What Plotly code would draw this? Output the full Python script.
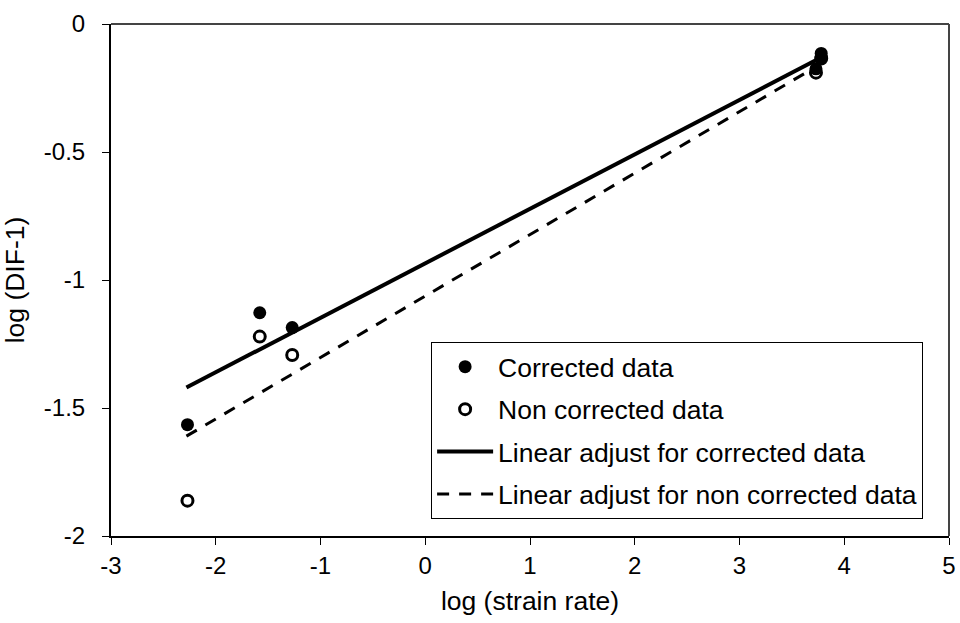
import plotly.graph_objects as go

# Data
corr_x = [-2.27, -1.58, -1.27, 3.73, 3.78, 3.78]
corr_y = [-1.565, -1.128, -1.186, -0.175, -0.115, -0.13]
noncorr_x = [-2.27, -1.58, -1.27, 3.73, 3.78]
noncorr_y = [-1.862, -1.221, -1.293, -0.19, -0.135]

fit_x = [-2.28, 3.76]
fit_corr_y = [-1.42, -0.135]
fit_noncorr_y = [-1.61, -0.16]

x_ticks = [-3, -2, -1, 0, 1, 2, 3, 4, 5]
y_ticks = [0, -0.5, -1, -1.5, -2]

FONT = "Arial, Liberation Sans, sans-serif"

fig = go.Figure()
fig.add_trace(go.Scatter(
    x=corr_x, y=corr_y, mode="markers", name="Corrected data", legendgroup="a",
    marker=dict(symbol="circle", size=13, color="black"),
))
fig.add_trace(go.Scatter(
    x=noncorr_x, y=noncorr_y, mode="markers", name="Non corrected data", legendgroup="b",
    marker=dict(symbol="circle-open", size=11, color="black", line=dict(width=3, color="black")),
))
fig.add_trace(go.Scatter(
    x=fit_x, y=fit_corr_y, mode="lines", name="Linear adjust for corrected data", legendgroup="c",
    line=dict(color="black", width=4),
))
fig.add_trace(go.Scatter(
    x=fit_x, y=fit_noncorr_y, mode="lines", name="Linear adjust for non corrected data", legendgroup="d",
    line=dict(color="black", width=3, dash="12px,10px"),
))

fig.update_layout(
    width=960, height=623,
    margin=dict(l=111, r=11, t=24, b=87),
    paper_bgcolor="white", plot_bgcolor="white",
    font=dict(family=FONT, size=24, color="black"),
    showlegend=True,
    legend=dict(
        x=0.382, y=0.379, xanchor="left", yanchor="top",
        bordercolor="black", borderwidth=1, bgcolor="white",
        font=dict(family=FONT, size=26.5, color="black"),
        itemwidth=56, tracegroupgap=5,
    ),
    xaxis=dict(
        range=[-3, 5], tickvals=x_ticks, ticktext=[str(v) for v in x_ticks],
        showgrid=False, zeroline=False, showline=True, linecolor="black", linewidth=2,
        mirror=False, ticks="outside", ticklen=7, tickwidth=1, tickcolor="black",
        title=dict(text="log (strain rate)", font=dict(size=26.5), standoff=14),
        tickfont=dict(size=24), automargin=False,
    ),
    yaxis=dict(
        range=[-2, 0], tickvals=y_ticks, ticktext=["0", "-0.5", "-1", "-1.5", "-2"],
        showgrid=False, zeroline=False, showline=True, linecolor="black", linewidth=2,
        mirror=False, ticks="outside", ticklen=7, tickwidth=1, tickcolor="black",
        ticklabelstandoff=12,
        title=dict(text="log (DIF-1)", font=dict(size=26.5), standoff=14),
        tickfont=dict(size=24), automargin=False,
    ),
)

# plot-area frame (top and right edges)
fig.add_shape(type="line", xref="paper", yref="paper", x0=0, x1=1, y0=1, y1=1,
              line=dict(color="#444444", width=2))
fig.add_shape(type="line", xref="paper", yref="paper", x0=1, x1=1, y0=0, y1=1,
              line=dict(color="#444444", width=2))

fig.write_html(
    "out.html",
    config={"displayModeBar": False},
    post_script="document.body.style.margin='0';document.body.style.overflow='hidden';",
)
